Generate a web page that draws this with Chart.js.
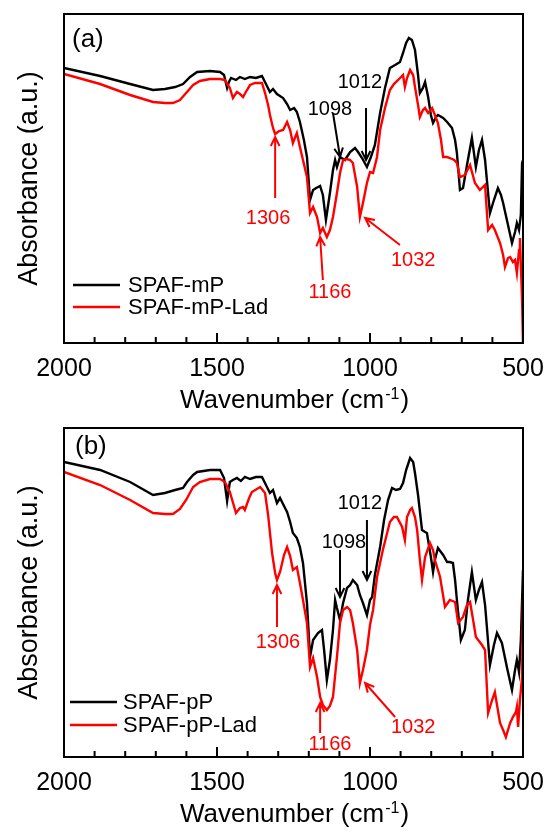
<!DOCTYPE html>
<html lang="en">
<head>
<meta charset="UTF-8">
<title>FTIR SPAF-mP / SPAF-pP</title>
<script src="https://cdn.jsdelivr.net/npm/chart.js"></script>
<style>
  body { margin: 0; background: #fff; }
  .painel { position: absolute; left: 0; }
</style>
</head>
<body>
<canvas id="graficoA" class="painel" width="552" height="414" style="top:0"></canvas>
<canvas id="graficoB" class="painel" width="552" height="421" style="top:414px"></canvas>
<script>
const wnMP = [2000,1882,1784,1709,1670,1637,1611,1588,1565,1523,1490,1477,1467,1461,1454,1438,1425,1409,1392,1373,1353,1340,1327,1317,1304,1284,1271,1261,1248,1239,1229,1216,1206,1196,1186,1176,1163,1154,1144,1131,1121,1114,1108,1098,1082,1065,1049,1039,1026,1010,997,984,967,951,935,918,902,892,882,873,863,853,843,837,827,820,810,801,794,784,778,761,748,732,722,716,706,696,683,667,654,644,634,624,618,608,595,582,572,565,549,536,526,520,513,507,503,500];
const absMP = [2.75,2.67,2.59,2.53,2.54,2.56,2.59,2.66,2.71,2.72,2.71,2.68,2.55,2.61,2.65,2.63,2.66,2.64,2.66,2.65,2.67,2.59,2.51,2.54,2.49,2.45,2.39,2.33,2.35,2.31,2.21,2.03,1.86,1.43,1.53,1.55,1.57,1.48,1.23,1.50,1.73,1.83,1.76,1.86,1.83,1.91,1.95,1.91,1.85,1.76,1.86,1.98,2.30,2.55,2.75,2.78,2.81,2.90,3.00,3.05,3.03,2.93,2.68,2.50,2.55,2.61,2.46,2.28,2.20,2.26,2.28,2.25,2.21,2.15,2.03,1.90,1.53,1.55,1.78,2.05,1.76,1.93,2.03,1.83,1.63,1.30,1.43,1.55,1.48,1.40,1.18,1.00,1.11,1.20,1.13,1.28,1.80,1.83];
const wnMPLad = [2000,1882,1784,1709,1670,1644,1621,1601,1578,1556,1523,1490,1474,1458,1448,1435,1425,1415,1402,1392,1376,1353,1343,1333,1327,1317,1310,1297,1284,1271,1261,1252,1239,1229,1219,1206,1196,1186,1173,1163,1154,1141,1131,1121,1108,1098,1088,1075,1065,1056,1042,1033,1023,1010,1000,990,977,967,951,935,922,908,892,886,879,869,859,853,843,837,827,820,810,797,788,778,768,761,748,739,725,716,706,690,673,657,641,624,614,601,592,575,565,559,549,542,533,526,520,513,510,503,500];
const absMPLad = [2.69,2.59,2.48,2.41,2.40,2.40,2.43,2.50,2.58,2.62,2.64,2.64,2.63,2.55,2.45,2.51,2.49,2.46,2.53,2.58,2.60,2.60,2.50,2.38,2.28,2.15,2.09,2.12,2.13,2.21,2.13,2.00,2.10,1.96,1.83,1.66,1.30,1.36,1.26,1.10,1.15,1.06,1.13,1.26,1.50,1.70,1.83,1.84,1.83,1.80,1.56,1.26,1.40,1.60,1.71,1.70,1.86,2.13,2.35,2.53,2.59,2.63,2.68,2.56,2.65,2.73,2.68,2.56,2.38,2.26,2.33,2.35,2.30,2.35,2.28,2.20,2.03,1.86,1.86,1.85,1.83,1.80,1.66,1.68,1.78,1.60,1.53,1.58,1.13,1.18,1.13,1.00,0.88,0.76,0.85,0.86,0.81,0.83,0.70,0.93,1.05,0.43,0];

const wnPP = [2000,1882,1784,1709,1670,1637,1611,1598,1578,1565,1523,1490,1477,1467,1458,1448,1435,1422,1409,1392,1373,1353,1340,1327,1317,1304,1294,1281,1271,1261,1252,1239,1229,1219,1206,1196,1186,1170,1157,1150,1141,1131,1121,1114,1108,1098,1088,1075,1065,1056,1042,1033,1023,1010,1000,993,984,967,954,941,928,915,902,892,882,869,859,853,843,830,820,814,801,794,788,778,761,748,739,729,722,716,703,690,680,667,654,644,634,624,618,608,595,585,569,552,536,526,520,513,507,500];
const absPP = [2.95,2.87,2.75,2.62,2.64,2.67,2.69,2.75,2.82,2.85,2.87,2.87,2.79,2.56,2.75,2.77,2.79,2.76,2.80,2.78,2.80,2.80,2.72,2.64,2.67,2.54,2.59,2.51,2.45,2.35,2.24,2.19,2.10,1.94,1.54,1.00,1.17,1.24,1.27,1.07,0.77,0.97,1.27,1.57,1.49,1.37,1.54,1.69,1.72,1.77,1.72,1.62,1.54,1.42,1.57,1.60,1.82,2.10,2.37,2.57,2.69,2.67,2.68,2.74,2.87,2.99,2.95,2.84,2.62,2.27,2.25,2.24,2.00,1.85,1.97,2.09,2.02,1.95,1.95,1.94,1.77,1.57,1.17,1.27,1.57,1.85,1.57,1.67,1.75,1.52,1.30,0.92,1.12,1.24,1.14,0.89,0.67,0.87,0.97,0.85,1.17,1.87];
const wnPPLad = [2000,1882,1784,1709,1670,1644,1621,1601,1578,1556,1523,1490,1474,1458,1438,1425,1415,1409,1395,1386,1359,1343,1333,1320,1310,1304,1294,1281,1271,1261,1252,1239,1229,1219,1206,1196,1186,1173,1163,1154,1141,1131,1121,1108,1098,1088,1075,1065,1056,1042,1033,1023,1010,1000,990,977,958,935,922,912,895,886,879,869,863,853,846,837,830,820,804,794,788,771,755,739,722,712,696,683,673,663,654,634,624,614,601,592,575,565,556,542,533,523,520,516,510,503,500];
const absPPLad = [2.85,2.72,2.57,2.44,2.43,2.43,2.48,2.57,2.70,2.75,2.78,2.78,2.75,2.65,2.44,2.49,2.50,2.47,2.59,2.65,2.70,2.64,2.42,2.04,1.84,1.77,1.85,2.02,2.10,2.01,1.87,1.90,1.74,1.57,1.34,0.90,0.99,0.80,0.60,0.52,0.47,0.51,0.60,1.00,1.34,1.47,1.50,1.47,1.34,1.07,0.74,0.87,1.07,1.32,1.47,1.80,2.07,2.35,2.40,2.40,2.30,2.17,2.40,2.47,2.49,2.40,2.27,1.97,1.77,2.00,2.14,2.07,1.97,1.80,1.50,1.57,1.55,1.34,1.40,1.52,1.55,1.37,1.20,1.12,1.07,0.44,0.57,0.65,0.34,0.27,0.20,0.34,0.40,0.45,0.50,0.30,0.57,0.80,1.57];

// ticks do eixo x
const ticksMaiores = [2000, 1500, 1000, 500];

// picos marcados: texto, posicao do texto, inicio e ponta da seta (cm-1, u.a.)
const picosA = [
  { texto: '1098', cor: '#000000', em: [1131, 2.34], de: [1121, 2.30], ate: [1098, 1.86] },
  { texto: '1012', cor: '#000000', em: [1033, 2.61], de: [1013, 2.35], ate: [1013, 1.83] },
  { texto: '1306', cor: '#ff0000', em: [1333, 1.25], de: [1310, 1.45], ate: [1310, 2.06] },
  { texto: '1166', cor: '#ff0000', em: [1131, 0.51], de: [1154, 0.63], ate: [1163, 1.06] },
  { texto: '1032', cor: '#ff0000', em: [859, 0.83],  de: [902, 0.98],  ate: [1016, 1.25] }
];
const picosB = [
  { texto: '1098', cor: '#000000', em: [1085, 2.15], de: [1098, 2.07], ate: [1098, 1.60] },
  { texto: '1012', cor: '#000000', em: [1033, 2.54], de: [1010, 2.37], ate: [1010, 1.77] },
  { texto: '1306', cor: '#ff0000', em: [1301, 1.15], de: [1304, 1.30], ate: [1304, 1.72] },
  { texto: '1166', cor: '#ff0000', em: [1131, 0.13], de: [1163, 0.24], ate: [1163, 0.54] },
  { texto: '1032', cor: '#ff0000', em: [859, 0.30],  de: [918, 0.40],  ate: [1016, 0.74] }
];

const FONTE = '"Liberation Sans", Arial, sans-serif';
Chart.defaults.font.family = FONTE;
Chart.defaults.color = '#000';

function seta(ctx, x1, y1, x2, y2) {
  const ang = Math.atan2(y2 - y1, x2 - x1);
  const t = 10;
  ctx.beginPath();
  ctx.moveTo(x1, y1);
  ctx.lineTo(x2, y2);
  ctx.moveTo(x2 - t * Math.cos(ang - 0.45), y2 - t * Math.sin(ang - 0.45));
  ctx.lineTo(x2, y2);
  ctx.lineTo(x2 - t * Math.cos(ang + 0.45), y2 - t * Math.sin(ang + 0.45));
  ctx.stroke();
}

// moldura, ticks para dentro, titulos, legenda e setas
const enfeites = {
  id: 'enfeites',
  afterDraw(chart, args, opts) {
    const { ctx, chartArea: area, scales: { x, y } } = chart;
    ctx.save();
    ctx.strokeStyle = '#000';
    ctx.lineWidth = 2;
    ctx.strokeRect(area.left, area.top, area.right - area.left, area.bottom - area.top);

    for (let v = 500; v <= 2000; v += 100) {
      const px = x.getPixelForValue(v);
      const tam = ticksMaiores.includes(v) ? 10 : 6;
      ctx.beginPath();
      ctx.moveTo(px, area.bottom);
      ctx.lineTo(px, area.bottom - tam);
      ctx.stroke();
    }

    // titulo do eixo x com sobrescrito
    ctx.fillStyle = '#000';
    ctx.textBaseline = 'alphabetic';
    ctx.textAlign = 'left';
    const base = 'Wavenumber (cm', sup = '-1', fim = ')';
    ctx.font = '26px ' + FONTE;
    const wBase = ctx.measureText(base).width;
    const wFim = ctx.measureText(fim).width;
    ctx.font = '16px ' + FONTE;
    const wSup = ctx.measureText(sup).width;
    let xt = (area.left + area.right) / 2 - (wBase + wSup + wFim) / 2;
    const yt = area.bottom + 65;
    ctx.font = '26px ' + FONTE;
    ctx.fillText(base, xt, yt);
    ctx.font = '16px ' + FONTE;
    ctx.fillText(sup, xt + wBase + 1, yt - 9);
    ctx.font = '26px ' + FONTE;
    ctx.fillText(fim, xt + wBase + wSup + 2, yt);

    // titulo do eixo y
    ctx.save();
    ctx.translate(30, (area.top + area.bottom) / 2);
    ctx.rotate(-Math.PI / 2);
    ctx.textAlign = 'center';
    ctx.textBaseline = 'middle';
    ctx.font = '27px ' + FONTE;
    ctx.fillText('Absorbance (a.u.)', 0, 0);
    ctx.restore();

    // rotulo do painel
    ctx.textAlign = 'left';
    ctx.textBaseline = 'middle';
    ctx.font = '26px ' + FONTE;
    ctx.fillText(opts.rotulo, area.left + opts.rotuloPos[0], area.top + opts.rotuloPos[1]);

    // legenda dentro do grafico
    ctx.font = '22px ' + FONTE;
    chart.data.datasets.forEach((ds, i) => {
      const ly = area.top + opts.legenda.y[i];
      ctx.strokeStyle = ds.borderColor;
      ctx.lineWidth = 2.4;
      ctx.beginPath();
      ctx.moveTo(area.left + opts.legenda.x0, ly);
      ctx.lineTo(area.left + opts.legenda.x1, ly);
      ctx.stroke();
      ctx.fillStyle = '#000';
      ctx.fillText(ds.label, area.left + opts.legenda.xt, ly + 1);
    });

    // setas dos picos
    ctx.font = '20px ' + FONTE;
    ctx.textAlign = 'center';
    ctx.lineWidth = 2;
    opts.picos.forEach(p => {
      ctx.fillStyle = p.cor;
      ctx.strokeStyle = p.cor;
      ctx.fillText(p.texto, x.getPixelForValue(p.em[0]), y.getPixelForValue(p.em[1]));
      seta(ctx,
        x.getPixelForValue(p.de[0]), y.getPixelForValue(p.de[1]),
        x.getPixelForValue(p.ate[0]), y.getPixelForValue(p.ate[1]));
    });
    ctx.restore();
  }
};

function pontos(wn, abs) {
  return wn.map((v, i) => ({ x: v, y: abs[i] }));
}

function montarGrafico(idCanvas, nomes, series, picos, rotulo, rotuloPos, legenda) {
  const canvas = document.getElementById(idCanvas);
  const alturaEixoX = canvas.height - 343;
  return new Chart(canvas, {
    type: 'line',
    data: {
      datasets: [
        { label: nomes[0], data: pontos(series[0], series[1]), borderColor: '#000000', order: 1 },
        { label: nomes[1], data: pontos(series[2], series[3]), borderColor: '#ff0000', order: 0 }
      ]
    },
    options: {
      responsive: false,
      animation: false,
      events: [],
      devicePixelRatio: 1,
      layout: { padding: { top: 14, right: 29, left: 0, bottom: 0 } },
      elements: {
        point: { radius: 0 },
        line: { borderWidth: 2.4, tension: 0 }
      },
      scales: {
        x: {
          type: 'linear',
          reverse: true,
          min: 500,
          max: 2000,
          grid: { display: false },
          border: { display: false },
          ticks: {
            stepSize: 500,
            padding: 3,
            maxRotation: 0,
            font: { size: 25 },
            callback: v => String(v)
          },
          afterFit: s => { s.height = alturaEixoX; }
        },
        y: {
          min: 0,
          max: 3.29,
          grid: { display: false },
          border: { display: false },
          ticks: { display: false },
          afterFit: s => { s.width = 64; }
        }
      },
      plugins: {
        legend: { display: false },
        tooltip: { enabled: false },
        enfeites: { picos, rotulo, rotuloPos, legenda }
      }
    },
    plugins: [enfeites]
  });
}

montarGrafico('graficoA', ['SPAF-mP', 'SPAF-mP-Lad'],
  [wnMP, absMP, wnMPLad, absMPLad], picosA, '(a)', [8, 26],
  { x0: 9, x1: 56, xt: 64, y: [271, 293] });

montarGrafico('graficoB', ['SPAF-pP', 'SPAF-pP-Lad'],
  [wnPP, absPP, wnPPLad, absPPLad], picosB, '(b)', [11, 19],
  { x0: 6, x1: 53, xt: 59, y: [274, 297] });
</script>
</body>
</html>
